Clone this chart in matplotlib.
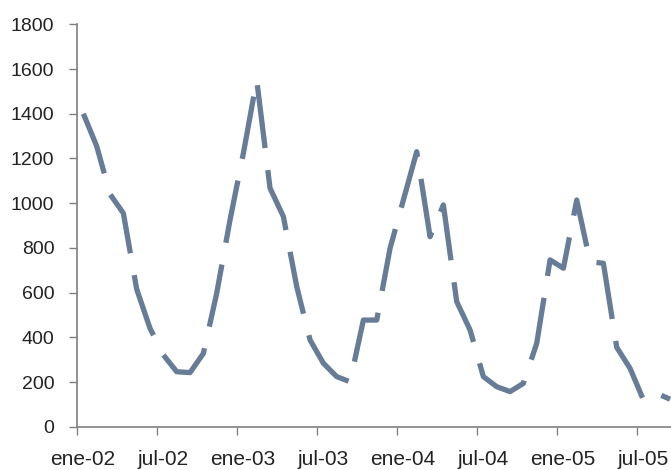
import matplotlib
matplotlib.use('Agg')
import matplotlib.pyplot as plt
import matplotlib.transforms as mtransforms
import numpy as np

# monthly values, ene-02 .. sep-05
values = [1400, 1255, 1040, 955, 615, 440, 321, 246, 242, 328, 597, 925,
          1223, 1551, 1067, 940, 627, 388, 284, 224, 201, 477, 477, 798,
          1014, 1230, 850, 992, 559, 433, 224, 179, 157, 194, 373, 746,
          709, 1014, 738, 731, 355, 261, 120, 149, 123]
tick_labels = ['ene-02', 'jul-02', 'ene-03', 'jul-03',
               'ene-04', 'jul-04', 'ene-05', 'jul-05']
y_ticks = [0, 200, 400, 600, 800, 1000, 1200, 1400, 1600, 1800]

plt.rcParams['font.family'] = ['Liberation Sans', 'DejaVu Sans']

fig = plt.figure(figsize=(6.71, 4.70), dpi=100)
ax = fig.add_axes([0.1143, 0.0921, 0.8857, 0.8562])

# points sit in the middle of each month slot (category axis)
x = np.arange(len(values)) + 0.5
ax.plot(x, values, color='#667c97', lw=3.8, linestyle=(0, (12, 4.2)),
        dash_capstyle='butt', solid_joinstyle='miter')

ax.set_xlim(0, 44.57)
ax.set_ylim(0, 1800)
ax.set_xticks(np.arange(len(tick_labels)) * 6)
ax.set_xticklabels(tick_labels)
ax.set_yticks(y_ticks)

for side in ['top', 'right']:
    ax.spines[side].set_visible(False)
for side in ['left', 'bottom']:
    ax.spines[side].set_color('#808080')
    ax.spines[side].set_linewidth(1.2)
ax.spines['left'].set_bounds(0, 1800)

ax.tick_params(axis='both', colors='#808080', labelcolor='#222222',
               length=5.5, width=1.0)
ax.tick_params(axis='y', pad=10.5, labelsize=14)
ax.tick_params(axis='x', pad=11.5, labelsize=15)

# x labels sit slightly right of their ticks in the original
shift = mtransforms.ScaledTranslation(6 / 100, 0, fig.dpi_scale_trans)
for lab in ax.get_xticklabels():
    lab.set_transform(lab.get_transform() + shift)

fig.savefig('out.png', dpi=100)
